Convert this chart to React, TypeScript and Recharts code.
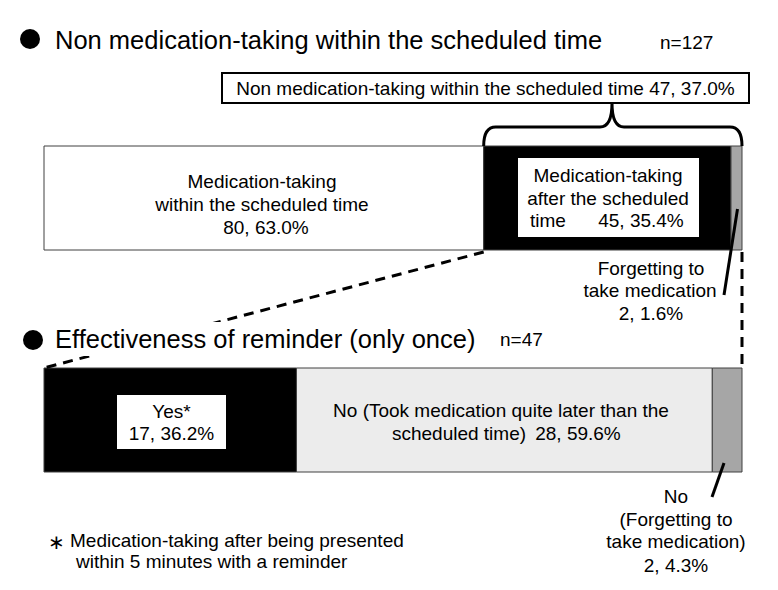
import React from "react";
import { BarChart, Bar, XAxis, YAxis, Cell } from "recharts";

// counts per row (top: all patients, bottom: reminder effect among the 47)
const rows = ["all", "reminder"];
const withinTime = [80, 17]; // top: taken in time / bottom: yes*
const lateTaking = [45, 28]; // top: taken after time / bottom: no, taken later
const forgotten = [2, 2];
const totals = [127, 47];

const W = 778;
const H = 590;
const M = { top: 87, right: 36, bottom: 59, left: 44 };
const PW = W - M.left - M.right;
const FONT = "'Liberation Sans', Arial, sans-serif";

const fillsA = ["#ffffff", "#000000"];
const fillsB = ["#000000", "#ececec"];
const fillsC = ["#a6a6a6", "#a6a6a6"];

const data = rows.map((r, i) => ({
  name: r,
  a: withinTime[i],
  b: lateTaking[i],
  c: forgotten[i],
}));

// x position of a cumulative count in a row (expand stacking => each row 100%)
const xAt = (row: number, cum: number) => M.left + (PW * cum) / totals[row];

export default function App() {
  const topBlack = xAt(0, withinTime[0]);
  const topEnd = xAt(0, totals[0]);
  const bracketMid = 612;
  const barTop0 = 146,
    barBot0 = 250,
    barTop1 = 368;

  const t = { fontFamily: FONT, fill: "#000" };

  return (
    <div style={{ position: "absolute", left: 0, top: 0, width: W, height: H, background: "#fff" }}>
      <div style={{ position: "absolute", left: 0, top: 0 }}>
        <BarChart
          width={W}
          height={H}
          data={data}
          layout="vertical"
          stackOffset="expand"
          margin={M}
        >
          <XAxis type="number" domain={[0, 1]} hide />
          <YAxis type="category" dataKey="name" hide width={0} />
          <Bar dataKey="a" stackId="s" barSize={104} stroke="#404040" strokeWidth={1} isAnimationActive={false}>
            {data.map((_, i) => (
              <Cell key={i} fill={fillsA[i]} />
            ))}
          </Bar>
          <Bar dataKey="b" stackId="s" barSize={104} stroke="#404040" strokeWidth={1} isAnimationActive={false}>
            {data.map((_, i) => (
              <Cell key={i} fill={fillsB[i]} />
            ))}
          </Bar>
          <Bar dataKey="c" stackId="s" barSize={104} stroke="#404040" strokeWidth={1} isAnimationActive={false}>
            {data.map((_, i) => (
              <Cell key={i} fill={fillsC[i]} />
            ))}
          </Bar>
        </BarChart>
      </div>

      <svg width={W} height={H} style={{ position: "absolute", left: 0, top: 0 }}>
        {/* titles */}
        <circle cx={30} cy={39} r={10} fill="#000" />
        <text x={55} y={49} fontSize={25.5} {...t}>
          Non medication-taking within the scheduled time
        </text>
        <text x={660} y={49} fontSize={19} {...t}>
          n=127
        </text>

        {/* bracket + summary box */}
        <rect x={222} y={73} width={527} height={30} fill="#fff" stroke="#000" strokeWidth={2} />
        <text x={485.5} y={95} fontSize={19} textAnchor="middle" {...t}>
          Non medication-taking within the scheduled time 47, 37.0%
        </text>
        <path
          d={`M${topBlack},${barTop0} Q${topBlack},127 ${topBlack + 12},127 L${bracketMid - 12},127 Q${bracketMid},127 ${bracketMid},103 Q${bracketMid},127 ${bracketMid + 12},127 L${topEnd - 12},127 Q${topEnd},127 ${topEnd},${barTop0}`}
          fill="none"
          stroke="#000"
          strokeWidth={3}
        />

        {/* zoom dashed lines */}
        <line x1={topBlack} y1={barBot0 + 2} x2={M.left} y2={barTop1} stroke="#000" strokeWidth={3} strokeDasharray="10 7" />
        <line x1={topEnd} y1={barBot0 + 2} x2={topEnd} y2={barTop1} stroke="#000" strokeWidth={3} strokeDasharray="10 7" />

        {/* second title masks the dashed line */}
        <rect x={18} y={322} width={462} height={34} fill="#fff" />
        <circle cx={33} cy={340} r={10} fill="#000" />
        <text x={55} y={348} fontSize={25.5} {...t}>
          Effectiveness of reminder (only once)
        </text>
        <text x={500} y={346} fontSize={19} {...t}>
          n=47
        </text>

        {/* top bar labels */}
        <g fontSize={19} textAnchor="middle" {...t}>
          <text x={262} y={188}>Medication-taking</text>
          <text x={262} y={211}>within the scheduled time</text>
          <text x={266} y={234}>80, 63.0%</text>
        </g>
        <rect x={518} y={158} width={181} height={79} fill="#fff" />
        <g fontSize={19} textAnchor="middle" {...t}>
          <text x={608} y={182}>Medication-taking</text>
          <text x={608} y={205}>after the scheduled</text>
          <text x={548} y={227}>time</text>
          <text x={641} y={227}>45, 35.4%</text>
        </g>
        <line x1={737.5} y1={209} x2={724} y2={295} stroke="#000" strokeWidth={3} />
        <g fontSize={19} textAnchor="middle" {...t}>
          <text x={651} y={275}>Forgetting to</text>
          <text x={650} y={297}>take medication</text>
          <text x={651} y={320}>2, 1.6%</text>
        </g>

        {/* bottom bar labels */}
        <rect x={117} y={395} width={109} height={54} fill="#fff" />
        <g fontSize={19} textAnchor="middle" {...t}>
          <text x={171.5} y={418}>Yes*</text>
          <text x={171.5} y={440}>17, 36.2%</text>
          <text x={501} y={417}>No (Took medication quite later than the</text>
          <text x={459} y={440}>scheduled time)</text>
          <text x={578} y={440}>28, 59.6%</text>
        </g>
        <line x1={724} y1={463} x2={712} y2={497} stroke="#000" strokeWidth={3} />
        <g fontSize={19} textAnchor="middle" {...t}>
          <text x={676} y={503}>No</text>
          <text x={676} y={526}>(Forgetting to</text>
          <text x={676} y={548}>take medication)</text>
          <text x={676} y={572}>2, 4.3%</text>
        </g>

        {/* footnote */}
        <g fontSize={19} {...t}>
          <text x={48} y={549} fontSize={20}>∗</text>
          <text x={70} y={547}>Medication-taking after being presented</text>
          <text x={76} y={568}>within 5 minutes with a reminder</text>
        </g>
      </svg>
    </div>
  );
}
